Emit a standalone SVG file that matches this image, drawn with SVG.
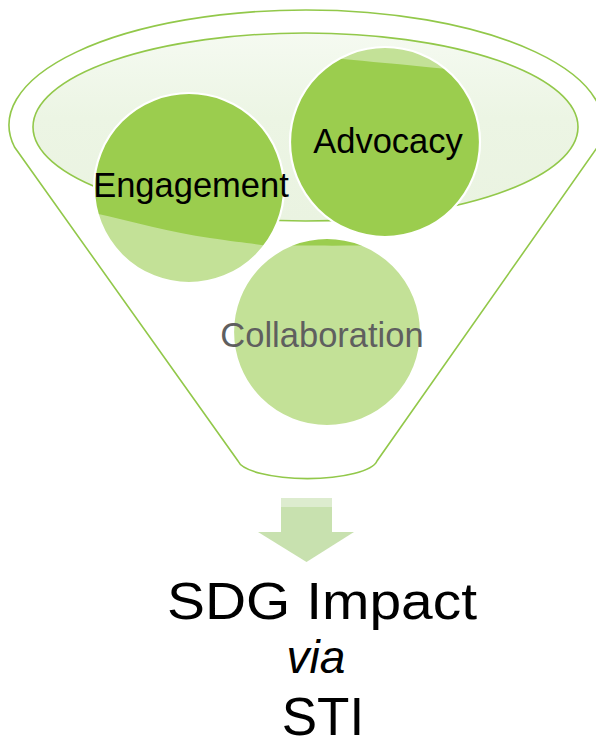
<svg xmlns="http://www.w3.org/2000/svg" width="596" height="745" viewBox="0 0 596 745">
<style>
.stroke{stroke:#92c84a;stroke-width:1.6}
.dark{fill:#9bcd4e}
.light{fill:#c3e197}
.ring{fill:none;stroke:#ffffff;stroke-width:2.2}
.lbl{font-family:"Liberation Sans",Arial,sans-serif;font-size:34.5px;text-anchor:middle}
.big{font-family:"Liberation Sans",Arial,sans-serif;fill:#000000;text-anchor:middle}
</style>
<defs>
<linearGradient id="innerGrad" x1="0" y1="0" x2="0" y2="1">
<stop offset="0" stop-color="#f5faf1"/>
<stop offset="0.45" stop-color="#ecf5e4"/>
<stop offset="1" stop-color="#eaf3e1"/>
</linearGradient>
<clipPath id="cEng"><circle cx="189" cy="188" r="95"/></clipPath>
<clipPath id="cAdv"><circle cx="385" cy="142" r="95"/></clipPath>
<clipPath id="cCol"><circle cx="327" cy="332" r="94"/></clipPath>
</defs>
<rect width="596" height="745" fill="#ffffff"/>
<g id="funnel">
<path class="stroke" fill="#ffffff" d="M14.5,147 A297,115 0 1,1 597.5,147 L377,461 A70,20 0 0,1 238,461 Z"/>
<ellipse class="stroke" cx="305.5" cy="127" rx="272.5" ry="94" fill="url(#innerGrad)"/>
</g>
<g id="engagement">
<circle class="dark" cx="189" cy="188" r="95"/>
<path class="light" clip-path="url(#cEng)" d="M90,212 C130,221 170,232 210,238 S262,244 292,250 L292,290 L90,290 Z"/>
<circle class="ring" cx="189" cy="188" r="95"/>
<text class="lbl" x="191" y="197" fill="#000000">Engagement</text>
</g>
<g id="advocacy">
<circle class="dark" cx="385" cy="142" r="95"/>
<path class="light" clip-path="url(#cAdv)" d="M285,40 L285,57 C320,56 350,60 385,63 S430,68 485,72 L485,40 Z"/>
<circle class="ring" cx="385" cy="142" r="95"/>
<text class="lbl" x="388" y="153" fill="#000000">Advocacy</text>
</g>
<g id="collaboration">
<circle class="light" cx="327" cy="332" r="94"/>
<path class="dark" clip-path="url(#cCol)" d="M230,236 L430,236 L430,244 C380,246 330,246 230,245 Z"/>
<circle class="ring" cx="327" cy="332" r="94"/>
<text class="lbl" x="322" y="347" fill="#5f5f5f">Collaboration</text>
</g>
<g id="connectors">
<g id="arrow">
<rect x="281" y="498" width="51" height="35" fill="#c8e1af"/>
<rect x="281" y="498" width="51" height="9" fill="#ddeccf"/>
<polygon points="258,532 354,532 306.5,562" fill="#c8e1af"/>
</g>
</g>
<g id="result">
<text class="big" x="322" y="619" font-size="52" textLength="310" lengthAdjust="spacingAndGlyphs">SDG Impact</text>
<text class="big" x="316" y="673" font-size="46" font-style="italic">via</text>
<text class="big" x="323" y="735" font-size="53">STI</text>
</g>
</svg>
